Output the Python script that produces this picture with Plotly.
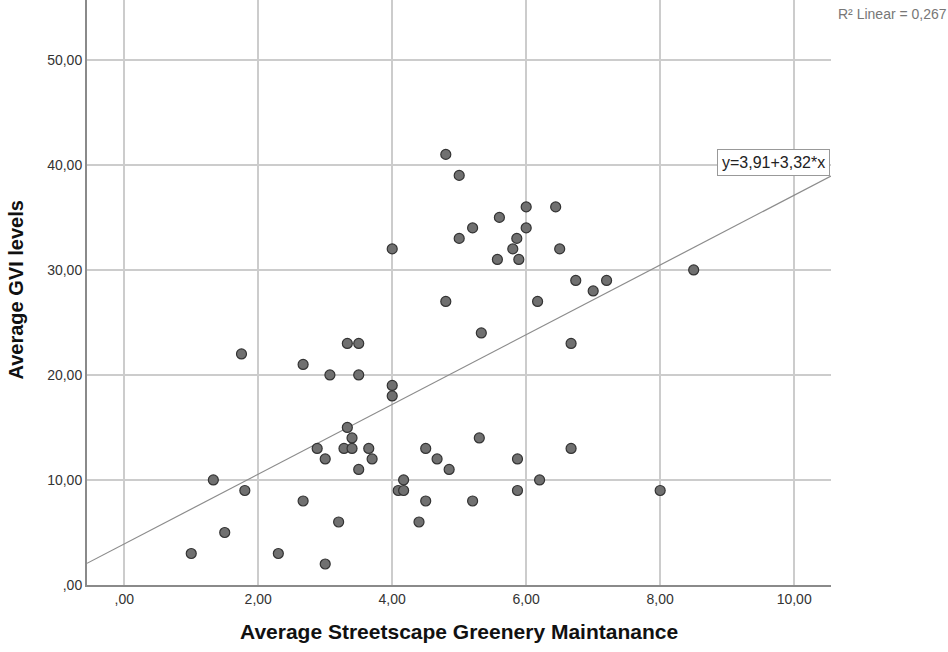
import plotly.graph_objects as go

# Data
maintenance = [1.0, 1.33, 1.5, 1.75, 1.8, 2.3, 2.67, 2.67, 2.88, 3.0, 3.0, 3.07, 3.2, 3.28,
               3.33, 3.33, 3.4, 3.4, 3.5, 3.5, 3.5, 3.65, 3.7, 4.0, 4.0, 4.0, 4.09, 4.17,
               4.17, 4.4, 4.5, 4.5, 4.67, 4.8, 4.8, 4.85, 5.0, 5.0, 5.2, 5.2, 5.3, 5.33,
               5.57, 5.6, 5.8, 5.86, 5.87, 5.87, 5.89, 6.0, 6.0, 6.17, 6.2, 6.44, 6.5,
               6.67, 6.67, 6.74, 7.0, 7.2, 8.0, 8.5]
gvi = [3, 10, 5, 22, 9, 3, 21, 8, 13, 12, 2, 20, 6, 13,
       23, 15, 14, 13, 23, 20, 11, 13, 12, 32, 19, 18, 9, 10,
       9, 6, 13, 8, 12, 41, 27, 11, 39, 33, 34, 8, 14, 24,
       31, 35, 32, 33, 12, 9, 31, 36, 34, 27, 10, 36, 32,
       23, 13, 29, 28, 29, 9, 30]

intercept = 3.91
slope = 3.32
r_squared_label = "R² Linear = 0,267"
equation_label = "y=3,91+3,32*x"

x_tickvals = [0, 2, 4, 6, 8, 10]
x_ticktext = [",00", "2,00", "4,00", "6,00", "8,00", "10,00"]
y_tickvals = [0, 10, 20, 30, 40, 50]
y_ticktext = [",00", "10,00", "20,00", "30,00", "40,00", "50,00"]

x_range = [-0.556, 10.55]
y_range = [0, 55.7]

FONT = "Liberation Sans, Arial, sans-serif"

fig = go.Figure()

# Fit line across the full x range
fig.add_trace(go.Scatter(
    x=x_range,
    y=[intercept + slope * v for v in x_range],
    mode="lines",
    line=dict(color="#8c8c8c", width=1.2),
    hoverinfo="skip",
    showlegend=False,
))

fig.add_trace(go.Scatter(
    x=maintenance, y=gvi, mode="markers",
    marker=dict(size=10, color="#707070", line=dict(color="#333333", width=1.2)),
    showlegend=False,
))

axis_font = dict(family=FONT, size=14, color="#333333")

fig.update_layout(
    width=948, height=652,
    margin=dict(l=87, r=117, t=0, b=67),
    paper_bgcolor="white", plot_bgcolor="white",
    font=axis_font,
    xaxis=dict(
        range=x_range, tickvals=x_tickvals, ticktext=x_ticktext,
        showgrid=True, gridcolor="#cccccc", gridwidth=1.5,
        showline=True, linecolor="#8a8a8a", linewidth=2,
        zeroline=False, ticks="", tickfont=axis_font,
    ),
    yaxis=dict(
        range=y_range, tickvals=y_tickvals, ticktext=y_ticktext,
        showgrid=True, gridcolor="#cccccc", gridwidth=1.5,
        showline=True, linecolor="#8a8a8a", linewidth=2,
        zeroline=False, ticks="", tickfont=axis_font,
    ),
    annotations=[
        dict(text="<b>Average Streetscape Greenery Maintanance</b>",
             xref="paper", yref="paper", x=0.5, y=0, yshift=-46,
             xanchor="center", yanchor="middle", showarrow=False,
             font=dict(family=FONT, size=21, color="#111111")),
        dict(text="<b>Average GVI levels</b>",
             xref="paper", yref="paper", x=0, y=0.5, xshift=-72, yshift=2,
             xanchor="center", yanchor="middle", showarrow=False, textangle=-90,
             font=dict(family=FONT, size=20, color="#111111")),
        dict(text=r_squared_label,
             xref="paper", yref="paper", x=1, y=1, xshift=5, yshift=-4,
             xanchor="left", yanchor="top", showarrow=False,
             font=dict(family=FONT, size=14, color="#777777")),
        dict(text=equation_label,
             xref="x", yref="y", x=x_range[1], y=40.2, xshift=-1,
             xanchor="right", yanchor="middle", showarrow=False,
             bgcolor="white", bordercolor="#999999", borderwidth=1, borderpad=4,
             font=dict(family=FONT, size=16, color="#222222")),
    ],
)

fig.write_html("out.html")
